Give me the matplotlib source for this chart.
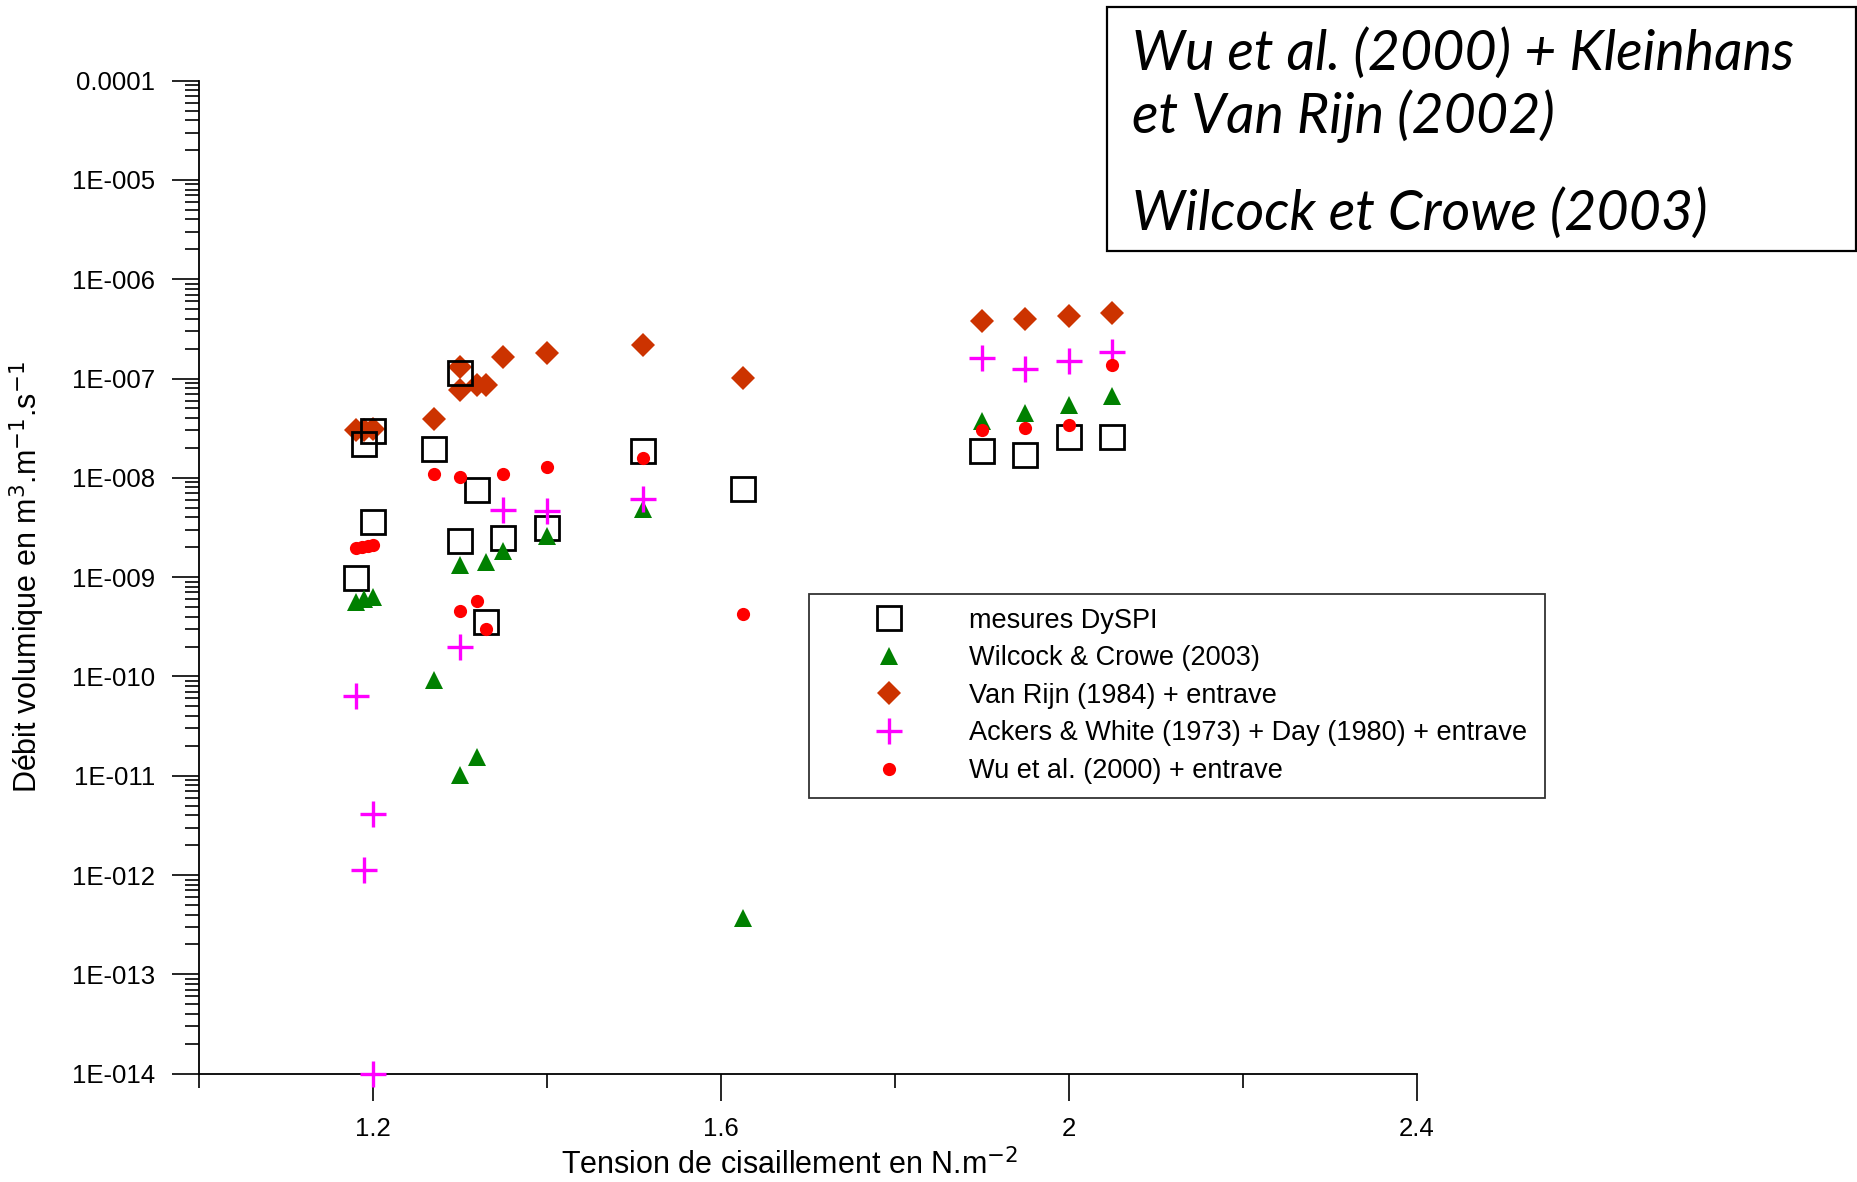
import matplotlib
matplotlib.use("Agg")
import matplotlib.pyplot as plt
from matplotlib.patches import Rectangle
from matplotlib.ticker import FixedLocator, FixedFormatter, LogLocator, NullFormatter

plt.rcParams['font.family'] = ['Liberation Sans', 'DejaVu Sans']

# Tension de cisaillement (N/m2) et debit volumique (m3/m/s) par jeu de donnees
dyspi_x = [1.18, 1.19, 1.20, 1.20, 1.27, 1.30, 1.30, 1.32, 1.33, 1.35, 1.40, 1.51, 1.625, 1.90, 1.95, 2.00, 2.05]
dyspi_y = [9.8e-10, 2.2e-8, 2.95e-8, 3.6e-9, 1.95e-8, 1.13e-7, 2.3e-9, 7.6e-9, 3.5e-10, 2.5e-9, 3.15e-9,
           1.87e-8, 7.8e-9, 1.87e-8, 1.7e-8, 2.6e-8, 2.6e-8]

wilcock_x = [1.18, 1.19, 1.20, 1.27, 1.30, 1.30, 1.32, 1.33, 1.35, 1.40, 1.51, 1.625, 1.90, 1.95, 2.00, 2.05]
wilcock_y = [5.6e-10, 6.0e-10, 6.3e-10, 9.2e-11, 1.32e-9, 1.02e-11, 1.53e-11, 1.43e-9, 1.85e-9, 2.6e-9,
             4.9e-9, 3.7e-13, 3.7e-8, 4.5e-8, 5.4e-8, 6.6e-8]

vanrijn_x = [1.18, 1.19, 1.20, 1.27, 1.30, 1.30, 1.32, 1.33, 1.35, 1.40, 1.51, 1.625, 1.90, 1.95, 2.00, 2.05]
vanrijn_y = [3.0e-8, 3.0e-8, 3.1e-8, 3.9e-8, 1.32e-7, 7.65e-8, 8.6e-8, 8.6e-8, 1.63e-7, 1.8e-7,
             2.17e-7, 1.02e-7, 3.8e-7, 4.0e-7, 4.3e-7, 4.6e-7]

ackers_x = [1.18, 1.19, 1.20, 1.20, 1.30, 1.35, 1.40, 1.51, 1.90, 1.95, 2.00, 2.05]
ackers_y = [6.4e-11, 1.12e-12, 4.1e-12, 1e-14, 2.0e-10, 4.7e-9, 4.6e-9, 6.1e-9, 1.62e-7, 1.25e-7, 1.51e-7, 1.85e-7]

wu_x = [1.18, 1.187, 1.194, 1.20, 1.27, 1.30, 1.30, 1.32, 1.33, 1.35, 1.40, 1.51, 1.625, 1.90, 1.95, 2.00, 2.05]
wu_y = [1.95e-9, 2.0e-9, 2.05e-9, 2.1e-9, 1.1e-8, 1.02e-8, 4.6e-10, 5.8e-10, 3.0e-10, 1.1e-8, 1.28e-8,
        1.58e-8, 4.3e-10, 3.0e-8, 3.2e-8, 3.4e-8, 1.37e-7]

labels = ['mesures DySPI', 'Wilcock & Crowe (2003)', 'Van Rijn (1984) + entrave',
          'Ackers & White (1973) + Day (1980) + entrave', 'Wu et al. (2000) + entrave']

x_ticks = [1.2, 1.6, 2.0, 2.4]
x_ticklabels = ['1.2', '1.6', '2', '2.4']
x_minor = [1.0, 1.4, 1.8, 2.2]
y_ticks = [1e-4, 1e-5, 1e-6, 1e-7, 1e-8, 1e-9, 1e-10, 1e-11, 1e-12, 1e-13, 1e-14]
y_ticklabels = ['0.0001', '1E-005', '1E-006', '1E-007', '1E-008', '1E-009', '1E-010',
                '1E-011', '1E-012', '1E-013', '1E-014']

fig = plt.figure(figsize=(18.58, 11.82), dpi=100)
ax = fig.add_axes([0.1071, 0.0917, 0.6555, 0.8401])

sq, = ax.plot(dyspi_x, dyspi_y, 's', ms=17.5, mfc='none', mec='black', mew=2.0, zorder=3)
tri, = ax.plot(wilcock_x, wilcock_y, '^', ms=13, color='#008000', mew=0, zorder=4)
dia, = ax.plot(vanrijn_x, vanrijn_y, 'D', ms=12, color='#CC3300', mew=0, zorder=2)
plus, = ax.plot(ackers_x, ackers_y, '+', ms=19, color='#FF00FF', mew=2.4, zorder=5, clip_on=False)
dot, = ax.plot(wu_x, wu_y, 'o', ms=9.5, color='#FF0000', mew=0, zorder=6)

ax.set_yscale('log')
ax.set_xlim(1.0, 2.4)
ax.set_ylim(1e-14, 1e-4)

ax.xaxis.set_major_locator(FixedLocator(x_ticks))
ax.xaxis.set_major_formatter(FixedFormatter(x_ticklabels))
ax.xaxis.set_minor_locator(FixedLocator(x_minor))
ax.yaxis.set_major_locator(FixedLocator(y_ticks))
ax.yaxis.set_major_formatter(FixedFormatter(y_ticklabels))
ax.yaxis.set_minor_locator(LogLocator(base=10, subs=range(2, 10), numticks=20))
ax.yaxis.set_minor_formatter(NullFormatter())

ax.tick_params(which='major', direction='out', length=19.5, width=1.2, labelsize=18.5, pad=12)
ax.tick_params(which='minor', direction='out', length=10, width=1.2)

for side in ['top', 'right']:
    ax.spines[side].set_visible(False)
for side in ['left', 'bottom']:
    ax.spines[side].set_linewidth(1.3)

ax.set_xlabel('Tension de cisaillement en N.m$^{-2}$', fontsize=22, labelpad=0)
ax.xaxis.set_label_coords(0.485, -0.076)
ax.set_ylabel('Débit volumique en m$^{3}$.m$^{-1}$.s$^{-1}$', fontsize=22)
ax.yaxis.set_label_coords(-0.125, 0.5)

leg = ax.legend([sq, tri, dia, plus, dot], labels, loc='upper left',
                bbox_to_anchor=(0.5008, 0.2786, 0.6047, 0.2044), mode='expand',
                fontsize=19.5, frameon=True, fancybox=False, framealpha=1,
                edgecolor='#333333', borderpad=0.5, handlelength=4.9,
                handletextpad=0.5, labelspacing=0.43, borderaxespad=0, numpoints=1)
leg.get_frame().set_linewidth(1.3)

# encadre des references en haut a droite
fig.patches.append(Rectangle((0.5958, 0.7876), 0.4030, 0.2064, transform=fig.transFigure,
                             fill=False, edgecolor='black', linewidth=1.6))
box_font = dict(family='Lato', style='italic', fontsize=40, transform=fig.transFigure, va='baseline')
fig.text(0.6093, 1 - 70 / 1182, 'Wu et al. (2000) + Kleinhans', **box_font)
fig.text(0.6093, 1 - 133 / 1182, 'et Van Rijn (2002)', **box_font)
fig.text(0.6093, 1 - 230 / 1182, 'Wilcock et Crowe (2003)', **box_font)

fig.savefig('out.png', dpi=100)
